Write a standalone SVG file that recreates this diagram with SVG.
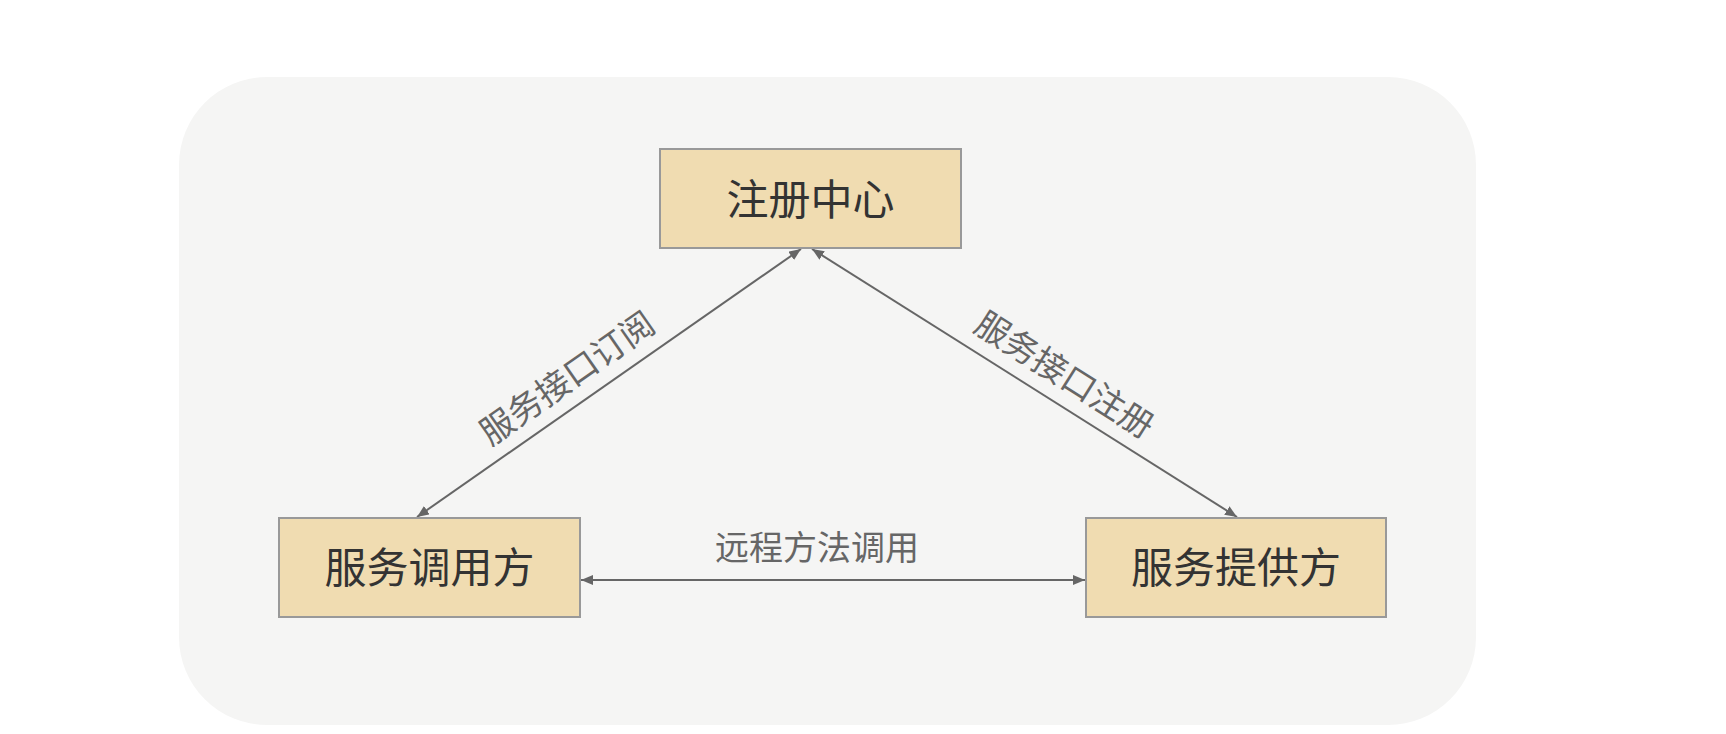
<svg xmlns="http://www.w3.org/2000/svg" width="1726" height="734" viewBox="0 0 1726 734">
<style>
.node rect{fill:#f0dcb1;stroke:#999;stroke-width:2}
.node text{font-family:"Noto Sans CJK SC","Noto Sans",sans-serif;font-size:42px;fill:#333;text-anchor:middle}
.lbl{font-family:"Noto Sans CJK SC","Noto Sans",sans-serif;font-size:34px;fill:#666;text-anchor:middle}
.edge{stroke:#666;stroke-width:2;fill:none}
</style>
<defs>
<marker id="ah" viewBox="0 0 12 10" refX="12" refY="5" markerWidth="12" markerHeight="10" markerUnits="userSpaceOnUse" orient="auto-start-reverse">
<path d="M0,0 L12,5 L0,10 z" fill="#666"/>
</marker>
</defs>
<rect x="0" y="0" width="1726" height="734" fill="#fff"/>
<rect x="179" y="77" width="1297" height="648" rx="88" ry="88" fill="#f5f5f4"/>
<g id="connectors">
<line class="edge" x1="417" y1="517" x2="801" y2="249" marker-start="url(#ah)" marker-end="url(#ah)"/>
<line class="edge" x1="812" y1="249" x2="1237" y2="517" marker-start="url(#ah)" marker-end="url(#ah)"/>
<line class="edge" x1="581" y1="580" x2="1085" y2="580" marker-start="url(#ah)" marker-end="url(#ah)"/>
<text class="lbl" transform="translate(574,388) rotate(-35)">服务接口订阅</text>
<text class="lbl" transform="translate(1058,385) rotate(32.4)">服务接口注册</text>
<text class="lbl" x="817" y="560">远程方法调用</text>
</g>
<g id="node-registry" class="node">
<rect x="660" y="149" width="301" height="99"/>
<text x="810.5" y="215">注册中心</text>
</g>
<g id="node-consumer" class="node">
<rect x="279" y="518" width="301" height="99"/>
<text x="429.5" y="583">服务调用方</text>
</g>
<g id="node-provider" class="node">
<rect x="1086" y="518" width="300" height="99"/>
<text x="1236" y="583">服务提供方</text>
</g>
</svg>
